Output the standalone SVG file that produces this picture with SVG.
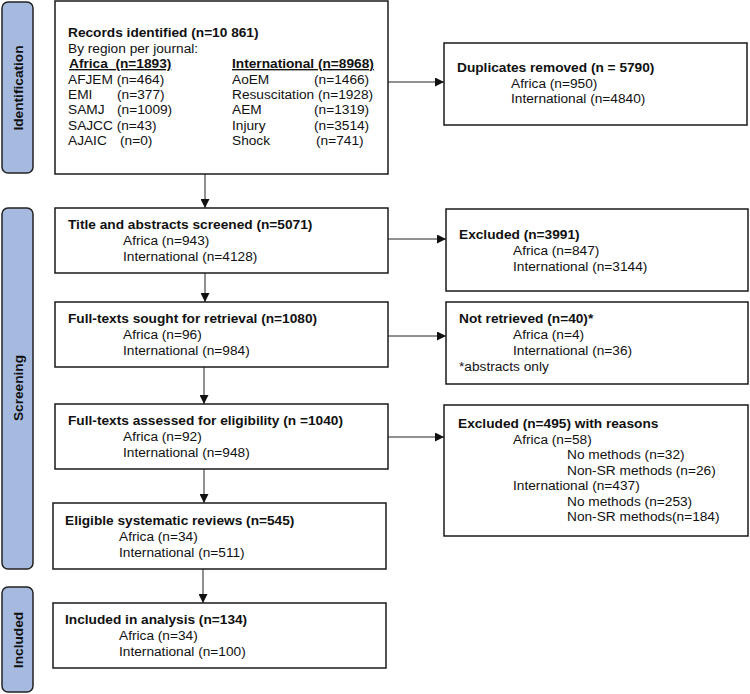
<svg xmlns="http://www.w3.org/2000/svg" width="750" height="694" viewBox="0 0 750 694">
<defs>
<style>
.box{fill:#fff;stroke:#1a1a1a;stroke-width:1.5}
.stage{fill:#a6badf;stroke:#222;stroke-width:1.5}
.t{font-family:"Liberation Sans",Arial,sans-serif;font-size:13.7px;fill:#111}
.b{font-weight:bold}
.u{text-decoration:underline}
.lab{font-family:"Liberation Sans",Arial,sans-serif;font-size:13.7px;font-weight:bold;fill:#111;text-anchor:middle}
.c{stroke:#222;stroke-width:1;fill:none}
</style>
<marker id="ah" viewBox="0 0 10 10" refX="10" refY="5" markerWidth="9" markerHeight="9" markerUnits="userSpaceOnUse" orient="auto">
<path d="M0,0 L10,5 L0,10 Z" fill="#111"/>
</marker>
</defs>
<rect width="750" height="694" fill="#fff"/>

<g id="stage-identification">
<rect class="stage" x="2" y="2" width="31" height="171" rx="6"/>
<text class="lab" transform="translate(23,88) rotate(-90)">Identification</text>
</g>
<g id="stage-screening">
<rect class="stage" x="2" y="208" width="31" height="361" rx="6"/>
<text class="lab" transform="translate(23,388) rotate(-90)">Screening</text>
</g>
<g id="stage-included">
<rect class="stage" x="2" y="587" width="31" height="105" rx="6"/>
<text class="lab" transform="translate(23,640) rotate(-90)">Included</text>
</g>

<g id="connectors">
<line class="c" x1="205" y1="174" x2="205" y2="208" marker-end="url(#ah)"/>
<line class="c" x1="388" y1="82" x2="444" y2="82" marker-end="url(#ah)"/>
<line class="c" x1="205" y1="273" x2="205" y2="302" marker-end="url(#ah)"/>
<line class="c" x1="388" y1="239" x2="446" y2="239" marker-end="url(#ah)"/>
<line class="c" x1="204" y1="367" x2="204" y2="404" marker-end="url(#ah)"/>
<line class="c" x1="388" y1="336" x2="446" y2="336" marker-end="url(#ah)"/>
<line class="c" x1="204" y1="469" x2="204" y2="503" marker-end="url(#ah)"/>
<line class="c" x1="388" y1="437" x2="444" y2="437" marker-end="url(#ah)"/>
<line class="c" x1="203" y1="569" x2="203" y2="603" marker-end="url(#ah)"/>
</g>

<g id="records">
<rect class="box" x="55" y="1" width="333" height="173"/>
<text class="t b" x="68" y="37">Records identified (n=10 861)</text>
<text class="t" x="68" y="52.5">By region per journal:</text>
<text class="t b u" x="69" y="68" xml:space="preserve">Africa  (n=1893)</text>
<text class="t b u" x="232" y="68">International (n=8968)</text>
<text class="t" x="68" y="83.5">AFJEM (n=464)</text>
<text class="t" x="68" y="99">EMI</text><text class="t" x="117" y="99">(n=377)</text>
<text class="t" x="68" y="114">SAMJ</text><text class="t" x="117" y="114">(n=1009)</text>
<text class="t" x="68" y="129.5">SAJCC (n=43)</text>
<text class="t" x="68" y="145">AJAIC</text><text class="t" x="120" y="145">(n=0)</text>
<text class="t" x="232" y="83.5">AoEM</text><text class="t" x="314" y="83.5">(n=1466)</text>
<text class="t" x="232" y="99">Resuscitation (n=1928)</text>
<text class="t" x="232" y="114">AEM</text><text class="t" x="314" y="114">(n=1319)</text>
<text class="t" x="232" y="129.5">Injury</text><text class="t" x="314" y="129.5">(n=3514)</text>
<text class="t" x="232" y="145">Shock</text><text class="t" x="316" y="145">(n=741)</text>
</g>

<g id="duplicates">
<rect class="box" x="444" y="43" width="303" height="82"/>
<text class="t b" x="457" y="72">Duplicates removed (n = 5790)</text>
<text class="t" x="511" y="87.5">Africa (n=950)</text>
<text class="t" x="511" y="103">International (n=4840)</text>
</g>

<g id="title-screened">
<rect class="box" x="55" y="208" width="333" height="65"/>
<text class="t b" x="68" y="229">Title and abstracts screened (n=5071)</text>
<text class="t" x="123" y="245">Africa (n=943)</text>
<text class="t" x="123" y="261">International (n=4128)</text>
</g>

<g id="excluded-1">
<rect class="box" x="446" y="209" width="302" height="82"/>
<text class="t b" x="459" y="239">Excluded (n=3991)</text>
<text class="t" x="513" y="255">Africa (n=847)</text>
<text class="t" x="513" y="271">International (n=3144)</text>
</g>

<g id="fulltext-sought">
<rect class="box" x="55" y="302" width="333" height="65"/>
<text class="t b" x="68" y="323">Full-texts sought for retrieval (n=1080)</text>
<text class="t" x="123" y="339">Africa (n=96)</text>
<text class="t" x="123" y="355">International (n=984)</text>
</g>

<g id="not-retrieved">
<rect class="box" x="446" y="302" width="302" height="82"/>
<text class="t b" x="459" y="323">Not retrieved (n=40)*</text>
<text class="t" x="513" y="339">Africa (n=4)</text>
<text class="t" x="513" y="355">International (n=36)</text>
<text class="t" x="459" y="371">*abstracts only</text>
</g>

<g id="fulltext-assessed">
<rect class="box" x="55" y="404" width="333" height="65"/>
<text class="t b" x="68" y="425">Full-texts assessed for eligibility (n =1040)</text>
<text class="t" x="123" y="441">Africa (n=92)</text>
<text class="t" x="123" y="457">International (n=948)</text>
</g>

<g id="excluded-2">
<rect class="box" x="444" y="405" width="304" height="131"/>
<text class="t b" x="458" y="428">Excluded (n=495) with reasons</text>
<text class="t" x="513" y="443.5">Africa (n=58)</text>
<text class="t" x="567" y="459">No methods (n=32)</text>
<text class="t" x="567" y="474.5">Non-SR methods (n=26)</text>
<text class="t" x="513" y="490">International (n=437)</text>
<text class="t" x="567" y="505.5">No methods (n=253)</text>
<text class="t" x="567" y="521">Non-SR methods(n=184)</text>
</g>

<g id="eligible">
<rect class="box" x="53" y="503" width="333" height="66"/>
<text class="t b" x="65" y="525">Eligible systematic reviews (n=545)</text>
<text class="t" x="119" y="541">Africa (n=34)</text>
<text class="t" x="119" y="557">International (n=511)</text>
</g>

<g id="included">
<rect class="box" x="53" y="603" width="333" height="65"/>
<text class="t b" x="65" y="624">Included in analysis (n=134)</text>
<text class="t" x="119" y="640">Africa (n=34)</text>
<text class="t" x="119" y="656">International (n=100)</text>
</g>
</svg>
